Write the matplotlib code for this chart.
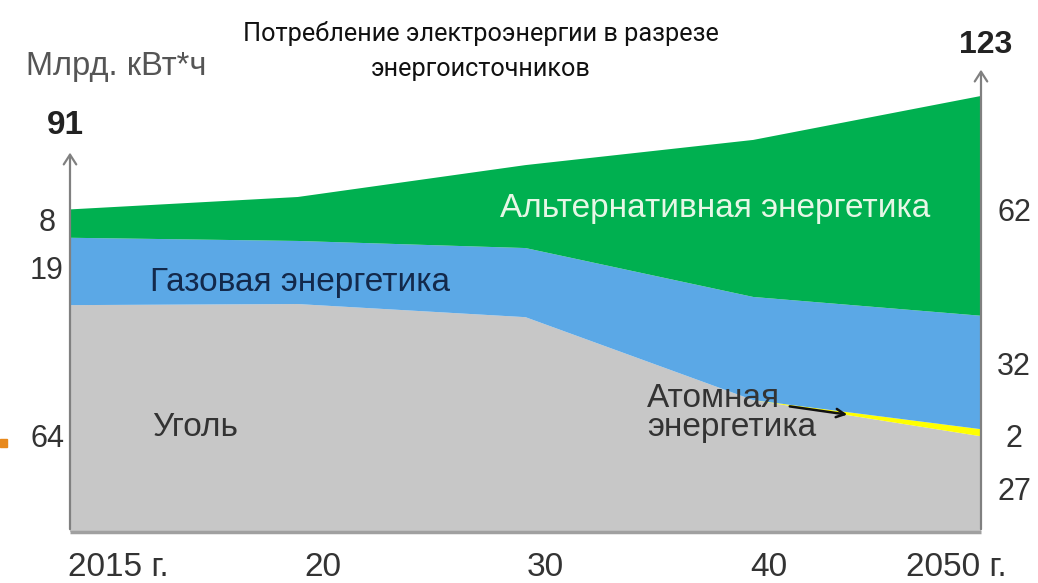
import matplotlib
matplotlib.use("Agg")
import matplotlib.pyplot as plt
from matplotlib.patches import Rectangle

# ---------------- data ----------------
years = ["2015 г.", "20", "30", "40", "2050 г."]
coal = [64, 64.3, 60.6, 37.2, 27]
nuclear = [0, 0, 0, 0, 2]
gas = [19, 17.8, 19.5, 29.1, 32]
alt = [8, 12.4, 23.4, 44.3, 62]
total_start = 91
total_end = 123
unit_label = "Млрд. кВт*ч"
title = "Потребление электроэнергии в разрезе\nэнергоисточников"
series_names = ["Уголь", "Атомная\nэнергетика", "Газовая энергетика", "Альтернативная энергетика"]

# ---------------- style ----------------
plt.rcParams['font.family'] = ['Liberation Sans', 'DejaVu Sans']
W, H = 1038, 583
DPI = 100
fig = plt.figure(figsize=(W / DPI, H / DPI), dpi=DPI)

# axes spans baseline (y=532px) to y=60px, x from 70px to 981px
x0, x1 = 70, 981
yb, yt = 532, 60
ax = fig.add_axes([x0 / W, (H - yb) / H, (x1 - x0) / W, (yb - yt) / H])
px_per_unit = 3.545
ax.set_xlim(0, len(years) - 1)
ax.set_ylim(0, (yb - yt) / px_per_unit)
ax.axis("off")

x = list(range(len(years)))
colors = ["#c7c7c7", "#ffff00", "#5ba8e6", "#00b050"]
ax.stackplot(x, coal, nuclear, gas, alt, colors=colors, linewidth=0)

axis_col = "#808080"
# baseline
ax.plot([0, len(years) - 1], [0, 0], color="#a0a0a0", lw=2.5, solid_capstyle="butt", clip_on=False, zorder=5)
# left and right arrowed axes
ax.annotate("", xy=(0, 107.8), xytext=(0, 0),
            arrowprops=dict(arrowstyle="->,head_length=0.7,head_width=0.45", color=axis_col, lw=1.6),
            annotation_clip=False, zorder=6)
ax.annotate("", xy=(len(years) - 1, 131.2), xytext=(len(years) - 1, 0),
            arrowprops=dict(arrowstyle="->,head_length=0.7,head_width=0.45", color=axis_col, lw=1.6),
            annotation_clip=False, zorder=6)

PT = 72 / DPI  # points per pixel

# totals
ax.annotate(str(total_start), xy=(0, 114.8), xytext=(-5 * PT, 0), textcoords="offset points",
            ha="center", va="center", fontsize=24, fontweight="bold", color="#222222", annotation_clip=False)
ax.annotate(str(total_end), xy=(len(years) - 1, 137.5), xytext=(5 * PT, 0), textcoords="offset points",
            ha="center", va="center", fontsize=23, fontweight="bold", color="#222222", annotation_clip=False)

# left values
left_vals = [alt[0], gas[0], coal[0]]
left_y = [87.1, 73.6, 26.2]
for v, yy in zip(left_vals, left_y):
    ax.annotate(f"{v:g}", xy=(0, yy), xytext=(-23 * PT, 0), textcoords="offset points",
                ha="center", va="center", fontsize=22, color="#333333", annotation_clip=False)

# right values
right_vals = [alt[-1], gas[-1], nuclear[-1], coal[-1]]
right_y = [90, 46.5, 26.2, 11.2]
for v, yy in zip(right_vals, right_y):
    ax.annotate(f"{v:g}", xy=(len(years) - 1, yy), xytext=(33 * PT, 0), textcoords="offset points",
                ha="center", va="center", fontsize=22, color="#333333", annotation_clip=False)

# series labels inside the chart
def px2data(px, py):
    return ((px - x0) / (x1 - x0) * (len(years) - 1), (yb - py) / px_per_unit)

tx, ty = px2data(152, 428)
ax.text(tx, ty, series_names[0], fontsize=24, color="#333333", ha="left", va="center")
tx, ty = px2data(150, 282)
ax.text(tx, ty, series_names[2], fontsize=24, color="#13294b", ha="left", va="center")
tx, ty = px2data(500, 209)
ax.text(tx, ty, series_names[3], fontsize=24, color="#e6f7e6", ha="left", va="center")
tx, ty = px2data(647, 413)
ax.text(tx, ty, series_names[1], fontsize=24, color="#333333", ha="left", va="center", linespacing=0.9)
ax.annotate("", xy=px2data(850, 415), xytext=px2data(787, 406),
            arrowprops=dict(arrowstyle="->,head_length=0.6,head_width=0.3", color="#111111", lw=1.8))

# x tick labels
tick_px = [118, 323, 545, 769, 956]
for lab, tp in zip(years, tick_px):
    ax.text(px2data(tp, 0)[0], px2data(0, 567)[1], lab, fontsize=24, color="#333333",
            ha="center", va="center", clip_on=False)

# unit label
fig.text(116 / W, 1 - 66 / H, unit_label, fontsize=23.5, color="#555555", ha="center", va="center")

# title
fig.text(481 / W, 1 - 51 / H, title, fontsize=18.2, color="#111111", ha="center", va="center",
         family=["Roboto", "DejaVu Sans"], linespacing=1.6)

# small orange marker at left edge
fig.patches.append(Rectangle((0, 1 - 447 / H), 7 / W, 8 / H, transform=fig.transFigure,
                             color="#e8891c", zorder=10))

fig.savefig("out.png", dpi=DPI)
